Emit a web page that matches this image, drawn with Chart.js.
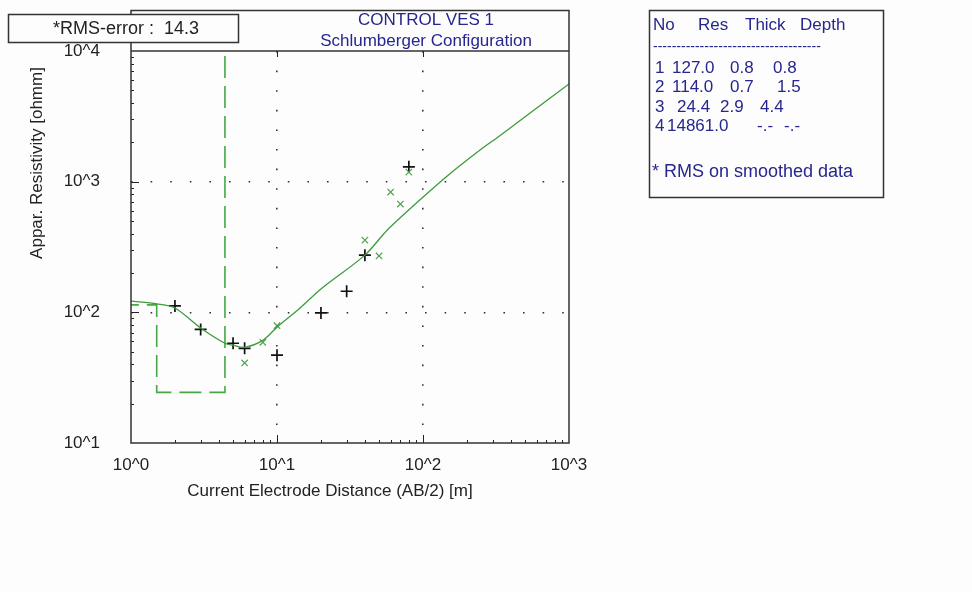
<!DOCTYPE html>
<html>
<head>
<meta charset="utf-8">
<script src="https://cdn.jsdelivr.net/npm/chart.js@4.4.1/dist/chart.umd.min.js"></script>
<style>
  html, body { margin: 0; padding: 0; background: #fdfdfd; }
  #wrap { position: relative; width: 972px; height: 592px; }
</style>
</head>
<body>
<div id="wrap"><canvas id="ves" width="972" height="592"></canvas></div>
<script>
// VES 1 - field data (+), smoothed data (x), model curve and layer model

// field data
const abHalf = [2, 3, 5, 6, 10, 20, 30, 40, 80];
const fieldRho = [112, 74, 58, 53, 47, 99, 145, 274, 1300];

// smoothed data
const smoothAb = [6, 8, 10, 40, 50, 60, 70, 80];
const smoothRho = [41, 59, 79, 357, 270, 832, 674, 1183];

// calculated model curve
const curveAb = [1, 1.5, 2, 3, 4.4, 5, 6, 8, 10, 14.4, 20, 40, 57, 95, 153, 246, 336, 1000];
const curveRho = [122, 116, 108, 76, 58, 56, 54, 61, 77, 108, 151, 274, 427, 723, 1150, 1746, 2250, 5600];

// layer table
const layerNo = [1, 2, 3, 4];
const layerRes = [127.0, 114.0, 24.4, 14861.0];
const layerThick = [0.8, 0.7, 2.9, null];
const layerDepth = [0.8, 1.5, 4.4, null];

const xTicks = [1, 10, 100, 1000];
const yTicks = [10, 100, 1000, 10000];
const rmsError = 14.3;

const FONT = "Arial, 'Liberation Sans', sans-serif";
const BLUE = '#26268e';
const GREEN = '#3d9b3d';

// step line for the layer model
function layerSteps() {
  const pts = [];
  for (let i = 0; i < layerRes.length; i++) {
    const from = i === 0 ? 0.5 : layerDepth[i - 1];
    const to = layerDepth[i] !== null ? layerDepth[i] : 5000;
    pts.push({ x: from, y: layerRes[i] });
    pts.push({ x: to, y: layerRes[i] });
  }
  return pts;
}

const zip = (xs, ys) => xs.map((x, i) => ({ x: x, y: ys[i] }));
const pow = v => '10^' + Math.round(Math.log10(v));
const fmt = v => v === null ? '-.-' : v.toFixed(1);

// table cell x positions per row: no, res, thick, depth
const cellX = [
  [655, 672, 730, 773],
  [655, 672, 730, 777],
  [655, 677, 720, 760],
  [655, 667, 757, 784]
];

// frame, title, minor ticks, rms box and layer table
const decorations = {
  id: 'decorations',
  afterDraw(chart) {
    const { ctx, chartArea: a, scales: { x, y } } = chart;
    ctx.save();

    // minor / major ticks
    ctx.strokeStyle = '#222';
    ctx.lineWidth = 1;
    ctx.beginPath();
    for (let d = 0; d < 3; d++) {
      for (let m = 2; m <= 10; m++) {
        if (m === 10 && d === 2) continue;
        const len = m === 10 ? 8 : 3;
        const px = Math.round(x.getPixelForValue(m * Math.pow(10, d))) + 0.5;
        ctx.moveTo(px, a.bottom);
        ctx.lineTo(px, a.bottom - len);
        const py = Math.round(y.getPixelForValue(m * Math.pow(10, d + 1))) + 0.5;
        ctx.moveTo(a.left, py);
        ctx.lineTo(a.left + len, py);
      }
    }
    [10, 100].forEach(v => {
      const px = Math.round(x.getPixelForValue(v)) + 0.5;
      ctx.moveTo(px, a.top);
      ctx.lineTo(px, a.top + 6);
    });
    ctx.stroke();

    // outer frame with title strip
    ctx.strokeStyle = '#333';
    ctx.lineWidth = 1.5;
    ctx.strokeRect(a.left, 10.5, a.right - a.left, a.bottom - 10.5);
    ctx.beginPath();
    ctx.moveTo(a.left, a.top);
    ctx.lineTo(a.right, a.top);
    ctx.stroke();

    ctx.fillStyle = BLUE;
    ctx.font = '17px ' + FONT;
    ctx.textAlign = 'center';
    ctx.textBaseline = 'middle';
    ctx.fillText('CONTROL VES 1', 426, 20);
    ctx.fillText('Schlumberger Configuration', 426, 41);

    // rms box
    ctx.fillStyle = '#fdfdfd';
    ctx.fillRect(8, 14, 230, 28);
    ctx.strokeRect(8.5, 14.5, 230, 28);
    ctx.fillStyle = '#222';
    ctx.font = '18px ' + FONT;
    ctx.textAlign = 'left';
    ctx.fillText('*RMS-error :  ' + rmsError.toFixed(1), 53, 29);

    // axis titles
    ctx.font = '17px ' + FONT;
    ctx.textAlign = 'center';
    ctx.fillText('Current Electrode Distance (AB/2) [m]', 330, 491);
    ctx.save();
    ctx.translate(37, 163);
    ctx.rotate(-Math.PI / 2);
    ctx.fillText('Appar. Resistivity [ohmm]', 0, 0);
    ctx.restore();

    // layer table
    ctx.strokeStyle = '#333';
    ctx.lineWidth = 1.5;
    ctx.strokeRect(649.5, 10.5, 234, 187);
    ctx.fillStyle = BLUE;
    ctx.font = '17px ' + FONT;
    ctx.textAlign = 'left';
    ctx.fillText('No', 653, 25);
    ctx.fillText('Res', 698, 25);
    ctx.fillText('Thick', 745, 25);
    ctx.fillText('Depth', 800, 25);
    ctx.font = '14px ' + FONT;
    ctx.fillText('-'.repeat(36), 653, 47);
    ctx.font = '17px ' + FONT;
    layerNo.forEach((n, i) => {
      const ty = 68 + i * 19.5;
      const cx = cellX[i];
      [String(n), fmt(layerRes[i]), fmt(layerThick[i]), fmt(layerDepth[i])]
        .forEach((t, j) => ctx.fillText(t, cx[j], ty));
    });
    ctx.font = '18px ' + FONT;
    ctx.fillText('* RMS on smoothed data', 652, 172);

    ctx.restore();
  }
};

// dotted grid only inside the plot, not on the frame
const gridColor = ctx => {
  if (!ctx.tick) return 'rgba(0,0,0,0)';
  const s = ctx.scale;
  const v = ctx.tick.value;
  return (v === s.min || v === s.max) ? 'rgba(0,0,0,0)' : '#333';
};

new Chart(document.getElementById('ves'), {
  type: 'scatter',
  data: {
    datasets: [
      {
        label: 'model',
        data: zip(curveAb, curveRho),
        showLine: true,
        borderColor: GREEN,
        borderWidth: 1.3,
        pointRadius: 0,
        tension: 0.3
      },
      {
        label: 'layers',
        data: layerSteps(),
        showLine: true,
        borderColor: '#45a845',
        borderWidth: 1.6,
        borderDash: [22, 8],
        pointRadius: 0
      },
      {
        label: 'smoothed',
        data: zip(smoothAb, smoothRho),
        pointStyle: 'crossRot',
        pointRadius: 4.5,
        borderColor: '#4fa24f',
        borderWidth: 1.2,
        showLine: false
      },
      {
        label: 'field',
        data: zip(abHalf, fieldRho),
        pointStyle: 'cross',
        pointRadius: 6,
        borderColor: '#111',
        borderWidth: 1.7,
        showLine: false
      }
    ]
  },
  options: {
    responsive: false,
    animation: false,
    devicePixelRatio: 1,
    layout: { padding: { left: 0, top: 51, right: 403, bottom: 109 } },
    plugins: {
      legend: { display: false },
      tooltip: { enabled: false },
      title: { display: false }
    },
    scales: {
      x: {
        type: 'logarithmic',
        min: 1,
        max: 1000,
        afterBuildTicks: s => { s.ticks = xTicks.map(v => ({ value: v })); },
        afterFit: s => { s.height = 40; },
        ticks: { callback: v => pow(v), font: { size: 17, family: FONT }, color: '#222', padding: 12, maxRotation: 0 },
        grid: { color: gridColor, lineWidth: 1.6, drawTicks: false },
        border: { display: false, dash: [1.6, 18] }
      },
      y: {
        type: 'logarithmic',
        min: 10,
        max: 10000,
        afterBuildTicks: s => { s.ticks = yTicks.map(v => ({ value: v })); },
        afterFit: s => { s.width = 131; },
        ticks: { callback: v => pow(v), font: { size: 17, family: FONT }, color: '#222', padding: 31 },
        grid: { color: gridColor, lineWidth: 1.6, drawTicks: false },
        border: { display: false, dash: [1.6, 18] }
      }
    }
  },
  plugins: [decorations]
});
</script>
</body>
</html>
